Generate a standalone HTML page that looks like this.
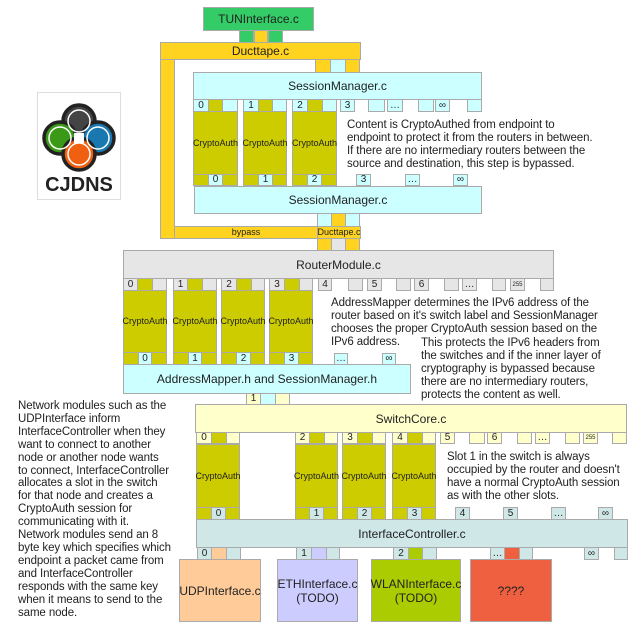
<!DOCTYPE html>
<html><head><meta charset="utf-8"><style>
body{margin:0;width:640px;height:634px;background:#fff;position:relative;overflow:hidden;font-family:"Liberation Sans",sans-serif;color:#222}
.b{position:absolute;box-sizing:border-box;border:1px solid #aaa;display:flex;align-items:center;justify-content:center;font-size:11px;line-height:1;white-space:nowrap;text-align:center}
.s{font-size:10px}
.y{background:#ffd320}.c{background:#ccffff}.o{background:#cccc00}.g{background:#e6e6e6}.p{background:#ffffcc}.t{background:#cfe7e7}
.ca{font-size:9px;background:#cccc00}
.tx{position:absolute;font-size:11.5px;line-height:13px;white-space:nowrap;color:#222;letter-spacing:-0.1px}
</style></head><body>

<div class="b" style="left:203px;top:7px;width:111px;height:24px;background:#33cc66;font-size:12px">TUNInterface.c</div>
<div class="b" style="left:239px;top:30px;width:15px;height:13px;background:#33cc66"></div>
<div class="b y" style="left:254px;top:30px;width:14px;height:13px"></div>
<div class="b" style="left:268px;top:30px;width:15px;height:13px;background:#33cc66"></div>
<div class="b y" style="left:160px;top:42px;width:201px;height:18px;font-size:12px">Ducttape.c</div>
<div class="b y" style="left:160px;top:59px;width:15px;height:180px"></div>
<div class="b y" style="left:174px;top:226px;width:144px;height:13px;font-size:9px">bypass</div>
<div class="b y" style="left:317px;top:226px;width:44px;height:13px;font-size:9px">Ducttape.c</div>
<div class="b y" style="left:315px;top:59px;width:16px;height:14px"></div>
<div class="b c" style="left:330px;top:59px;width:16px;height:14px"></div>
<div class="b y" style="left:345px;top:59px;width:15px;height:14px"></div>

<div class="b c" style="left:193px;top:72px;width:289px;height:28px;font-size:12px">SessionManager.c</div>
<div class="b c s" style="left:193px;top:99px;width:16px;height:13px">0</div><div class="b o" style="left:208px;top:99px;width:15px;height:13px"></div><div class="b c" style="left:222px;top:99px;width:16px;height:13px"></div>
<div class="b c s" style="left:243px;top:99px;width:16px;height:13px">1</div><div class="b o" style="left:258px;top:99px;width:15px;height:13px"></div><div class="b c" style="left:272px;top:99px;width:15px;height:13px"></div>
<div class="b c s" style="left:292px;top:99px;width:16px;height:13px">2</div><div class="b o" style="left:307px;top:99px;width:16px;height:13px"></div><div class="b c" style="left:322px;top:99px;width:15px;height:13px"></div>
<div class="b c s" style="left:340px;top:99px;width:15px;height:13px">3</div>
<div class="b c" style="left:368px;top:99px;width:17px;height:13px"></div>
<div class="b c s" style="left:387px;top:99px;width:16px;height:13px">…</div>
<div class="b c" style="left:418px;top:99px;width:16px;height:13px"></div>
<div class="b c s" style="left:435px;top:99px;width:15px;height:13px">∞</div>
<div class="b c" style="left:467px;top:99px;width:15px;height:13px"></div>
<div class="b ca" style="left:193px;top:111px;width:45px;height:64px">CryptoAuth</div>
<div class="b ca" style="left:243px;top:111px;width:44px;height:64px">CryptoAuth</div>
<div class="b ca" style="left:292px;top:111px;width:45px;height:64px">CryptoAuth</div>
<div class="b o" style="left:193px;top:174px;width:45px;height:12px"></div><div class="b c s" style="left:208px;top:174px;width:15px;height:12px">0</div>
<div class="b o" style="left:243px;top:174px;width:44px;height:12px"></div><div class="b c s" style="left:258px;top:174px;width:15px;height:12px">1</div>
<div class="b o" style="left:292px;top:174px;width:45px;height:12px"></div><div class="b c s" style="left:307px;top:174px;width:15px;height:12px">2</div>
<div class="b c s" style="left:356px;top:174px;width:15px;height:12px">3</div>
<div class="b c s" style="left:405px;top:174px;width:15px;height:12px">…</div>
<div class="b c s" style="left:453px;top:174px;width:15px;height:12px">∞</div>
<div class="b c" style="left:194px;top:186px;width:288px;height:28px;font-size:12px">SessionManager.c</div>
<div class="b c" style="left:317px;top:213px;width:15px;height:14px"></div>
<div class="b y" style="left:331px;top:213px;width:15px;height:14px"></div>
<div class="b c" style="left:345px;top:213px;width:15px;height:14px"></div>
<div class="b y" style="left:317px;top:238px;width:15px;height:13px"></div>
<div class="b g" style="left:331px;top:238px;width:15px;height:13px"></div>
<div class="b y" style="left:345px;top:238px;width:15px;height:13px"></div>

<div class="tx" style="left:347px;top:119px">Content is CryptoAuthed from endpoint to<br>endpoint to protect it from the routers in between.<br>If there are no intermediary routers between the<br>source and destination, this step is bypassed.</div>

<div style="position:absolute;left:37px;top:92px;width:84px;height:108px;box-sizing:border-box;border:1px solid #ddd;background:#fff"></div>
<svg style="position:absolute;left:37px;top:92px" width="84" height="108" viewBox="0 0 84 108">
<g stroke="#222" stroke-width="3.5">
<circle cx="42" cy="29" r="16" fill="#444"/><circle cx="23" cy="46" r="16" fill="#3a9a18"/><circle cx="61" cy="46" r="16" fill="#1a78b0"/><circle cx="42" cy="62" r="16" fill="#f06010"/></g>
<g fill="none" stroke="#fff" stroke-width="1.5"><circle cx="42" cy="29" r="11"/><circle cx="23" cy="46" r="11"/><circle cx="61" cy="46" r="11"/><circle cx="42" cy="62" r="11"/></g>
<rect x="37" y="41" width="10" height="10" fill="#fff"/>
<text x="42" y="99" text-anchor="middle" font-family="Liberation Sans" font-weight="bold" font-size="20" fill="#222">CJDNS</text>
</svg>

<div class="b g" style="left:123px;top:250px;width:431px;height:29px;font-size:12px">RouterModule.c</div>
<div class="b g s" style="left:123px;top:278px;width:15px;height:13px">0</div><div class="b o" style="left:137px;top:278px;width:16px;height:13px"></div><div class="b g" style="left:152px;top:278px;width:15px;height:13px"></div>
<div class="b g s" style="left:173px;top:278px;width:15px;height:13px">1</div><div class="b o" style="left:187px;top:278px;width:16px;height:13px"></div><div class="b g" style="left:202px;top:278px;width:15px;height:13px"></div>
<div class="b g s" style="left:221px;top:278px;width:16px;height:13px">2</div><div class="b o" style="left:236px;top:278px;width:16px;height:13px"></div><div class="b g" style="left:251px;top:278px;width:14px;height:13px"></div>
<div class="b g s" style="left:269px;top:278px;width:16px;height:13px">3</div><div class="b o" style="left:284px;top:278px;width:16px;height:13px"></div><div class="b g" style="left:299px;top:278px;width:14px;height:13px"></div>
<div class="b g s" style="left:318px;top:278px;width:14px;height:13px">4</div>
<div class="b g" style="left:348px;top:278px;width:15px;height:13px"></div>
<div class="b g s" style="left:367px;top:278px;width:15px;height:13px">5</div>
<div class="b g" style="left:396px;top:278px;width:15px;height:13px"></div>
<div class="b g s" style="left:414px;top:278px;width:15px;height:13px">6</div>
<div class="b g" style="left:444px;top:278px;width:15px;height:13px"></div>
<div class="b g s" style="left:462px;top:278px;width:15px;height:13px">…</div>
<div class="b g" style="left:492px;top:278px;width:14px;height:13px"></div>
<div class="b g" style="left:510px;top:278px;width:15px;height:13px;font-size:6px">255</div>
<div class="b g" style="left:540px;top:278px;width:14px;height:13px"></div>
<div class="b ca" style="left:123px;top:290px;width:44px;height:63px">CryptoAuth</div>
<div class="b ca" style="left:173px;top:290px;width:44px;height:63px">CryptoAuth</div>
<div class="b ca" style="left:221px;top:290px;width:44px;height:63px">CryptoAuth</div>
<div class="b ca" style="left:269px;top:290px;width:44px;height:63px">CryptoAuth</div>
<div class="b o" style="left:123px;top:352px;width:44px;height:13px"></div><div class="b c s" style="left:138px;top:352px;width:14px;height:13px">0</div>
<div class="b o" style="left:173px;top:352px;width:44px;height:13px"></div><div class="b c s" style="left:188px;top:352px;width:14px;height:13px">1</div>
<div class="b o" style="left:221px;top:352px;width:44px;height:13px"></div><div class="b c s" style="left:236px;top:352px;width:15px;height:13px">2</div>
<div class="b o" style="left:269px;top:352px;width:44px;height:13px"></div><div class="b c s" style="left:284px;top:352px;width:15px;height:13px">3</div>
<div class="b c s" style="left:334px;top:353px;width:14px;height:12px">…</div>
<div class="b c s" style="left:382px;top:353px;width:14px;height:12px">∞</div>
<div class="b c" style="left:123px;top:364px;width:288px;height:30px;font-size:12px">AddressMapper.h and SessionManager.h</div>
<div class="b p s" style="left:246px;top:393px;width:15px;height:12px">1</div>
<div class="b c" style="left:260px;top:393px;width:16px;height:12px"></div>
<div class="b p" style="left:275px;top:393px;width:15px;height:12px"></div>

<div class="tx" style="left:331px;top:297px">AddressMapper determines the IPv6 address of the<br>router based on it's switch label and SessionManager<br>chooses the proper CryptoAuth session based on the<br>IPv6 address.</div>
<div class="tx" style="left:421px;top:337px">This protects the IPv6 headers from<br>the switches and if the inner layer of<br>cryptography is bypassed because<br>there are no intermediary routers,<br>protects the content as well.</div>

<div class="b p" style="left:195px;top:404px;width:432px;height:29px;font-size:12px">SwitchCore.c</div>
<div class="b p s" style="left:196px;top:432px;width:16px;height:12px">0</div><div class="b o" style="left:211px;top:432px;width:16px;height:12px"></div><div class="b p" style="left:226px;top:432px;width:14px;height:12px"></div>
<div class="b p s" style="left:295px;top:432px;width:15px;height:12px">2</div><div class="b o" style="left:309px;top:432px;width:16px;height:12px"></div><div class="b p" style="left:324px;top:432px;width:14px;height:12px"></div>
<div class="b p s" style="left:342px;top:432px;width:16px;height:12px">3</div><div class="b o" style="left:357px;top:432px;width:16px;height:12px"></div><div class="b p" style="left:372px;top:432px;width:14px;height:12px"></div>
<div class="b p s" style="left:392px;top:432px;width:16px;height:12px">4</div><div class="b o" style="left:407px;top:432px;width:16px;height:12px"></div><div class="b p" style="left:422px;top:432px;width:14px;height:12px"></div>
<div class="b p s" style="left:440px;top:432px;width:15px;height:12px">5</div>
<div class="b p" style="left:469px;top:432px;width:16px;height:12px"></div>
<div class="b p s" style="left:487px;top:432px;width:15px;height:12px">6</div>
<div class="b p" style="left:517px;top:432px;width:15px;height:12px"></div>
<div class="b p s" style="left:535px;top:432px;width:15px;height:12px">…</div>
<div class="b p" style="left:565px;top:432px;width:15px;height:12px"></div>
<div class="b p" style="left:583px;top:432px;width:15px;height:12px;font-size:6px">255</div>
<div class="b p" style="left:612px;top:432px;width:15px;height:12px"></div>
<div class="b ca" style="left:196px;top:444px;width:44px;height:64px">CryptoAuth</div>
<div class="b ca" style="left:295px;top:444px;width:43px;height:64px">CryptoAuth</div>
<div class="b ca" style="left:342px;top:444px;width:44px;height:64px">CryptoAuth</div>
<div class="b ca" style="left:392px;top:444px;width:44px;height:64px">CryptoAuth</div>
<div class="b o" style="left:196px;top:507px;width:44px;height:13px"></div><div class="b t s" style="left:211px;top:507px;width:15px;height:13px">0</div>
<div class="b o" style="left:295px;top:507px;width:43px;height:13px"></div><div class="b t s" style="left:309px;top:507px;width:15px;height:13px">1</div>
<div class="b o" style="left:342px;top:507px;width:44px;height:13px"></div><div class="b t s" style="left:357px;top:507px;width:15px;height:13px">2</div>
<div class="b o" style="left:392px;top:507px;width:44px;height:13px"></div><div class="b t s" style="left:407px;top:507px;width:15px;height:13px">3</div>
<div class="b t s" style="left:455px;top:507px;width:15px;height:13px">4</div>
<div class="b t s" style="left:503px;top:507px;width:15px;height:13px">5</div>
<div class="b t s" style="left:551px;top:507px;width:15px;height:13px">…</div>
<div class="b t s" style="left:598px;top:507px;width:15px;height:13px">∞</div>
<div class="b t" style="left:196px;top:519px;width:432px;height:29px;font-size:12px">InterfaceController.c</div>
<div class="b t s" style="left:197px;top:547px;width:15px;height:13px">0</div><div class="b" style="left:211px;top:547px;width:16px;height:13px;background:#ffcc99"></div><div class="b t" style="left:226px;top:547px;width:15px;height:13px"></div>
<div class="b t s" style="left:296px;top:547px;width:16px;height:13px">1</div><div class="b" style="left:311px;top:547px;width:16px;height:13px;background:#ccccff"></div><div class="b t" style="left:326px;top:547px;width:14px;height:13px"></div>
<div class="b t s" style="left:393px;top:547px;width:16px;height:13px">2</div><div class="b" style="left:408px;top:547px;width:15px;height:13px;background:#aacc00"></div><div class="b t" style="left:422px;top:547px;width:15px;height:13px"></div>
<div class="b t s" style="left:490px;top:547px;width:15px;height:13px">…</div><div class="b" style="left:504px;top:547px;width:16px;height:13px;background:#ee6040"></div><div class="b t" style="left:519px;top:547px;width:14px;height:13px"></div>
<div class="b t s" style="left:584px;top:547px;width:15px;height:13px">∞</div>
<div class="b t" style="left:614px;top:547px;width:14px;height:13px"></div>
<div class="b" style="left:179px;top:559px;width:82px;height:63px;background:#ffcc99;font-size:12px">UDPInterface.c</div>
<div class="b" style="left:277px;top:559px;width:81px;height:63px;background:#ccccff;font-size:12px;line-height:14px;white-space:normal">ETHInterface.c<br>(TODO)</div>
<div class="b" style="left:371px;top:559px;width:90px;height:63px;background:#aacc00;font-size:12px;line-height:14px;white-space:normal">WLANInterface.c<br>(TODO)</div>
<div class="b" style="left:470px;top:559px;width:82px;height:63px;background:#ee6040;font-size:12px">????</div>

<div class="tx" style="left:447px;top:451px">Slot 1 in the switch is always<br>occupied by the router and doesn't<br>have a normal CryptoAuth session<br>as with the other slots.</div>

<div class="tx" style="left:18px;top:400px;line-height:12.9px">Network modules such as the<br>UDPInterface inform<br>InterfaceController when they<br>want to connect to another<br>node or another node wants<br>to connect, InterfaceController<br>allocates a slot in the switch<br>for that node and creates a<br>CryptoAuth session for<br>communicating with it.<br>Network modules send an 8<br>byte key which specifies which<br>endpoint a packet came from<br>and InterfaceController<br>responds with the same key<br>when it means to send to the<br>same node.</div>
</body></html>
